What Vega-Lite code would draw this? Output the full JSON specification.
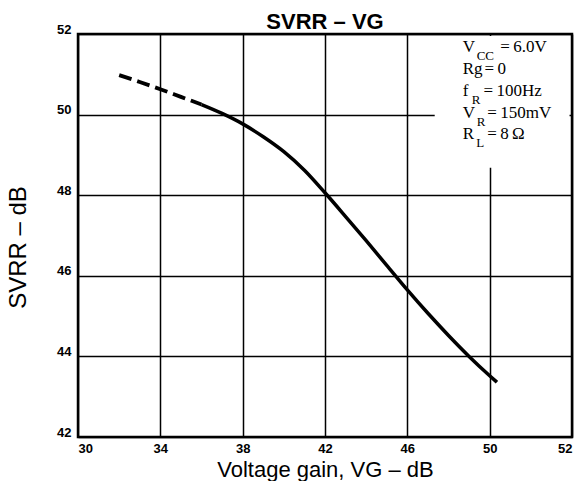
{
  "$schema": "https://vega.github.io/schema/vega-lite/v6.json",
  "autosize": "none",
  "width": 494,
  "height": 403,
  "padding": {"left": 78, "top": 34, "right": 8, "bottom": 44},
  "background": "white",
  "title": {
    "text": "SVRR – VG",
    "font": "Liberation Sans",
    "fontSize": 22,
    "fontWeight": "bold",
    "color": "black",
    "anchor": "middle",
    "frame": "group",
    "baseline": "alphabetic",
    "offset": 7,
    "dy": 35
  },
  "config": {
    "view": {"stroke": "black", "strokeWidth": 2.5},
    "axis": {"zindex": 0}
  },
  "encoding": {
    "x": {
      "field": "x",
      "type": "quantitative",
      "scale": {"domain": [30, 54], "nice": false, "zero": false},
      "axis": {
        "title": "Voltage gain, VG – dB",
        "values": [30, 34, 38, 42, 46, 50, 54],
        "labelExpr": "datum.value == 54 ? '52' : datum.label",
        "grid": true,
        "gridColor": "black",
        "gridWidth": 1.5,
        "gridOpacity": 1,
        "domain": false,
        "ticks": false,
        "labelFont": "Liberation Sans",
        "labelFontWeight": "bold",
        "labelFontSize": 13,
        "labelColor": "black",
        "labelPadding": 5,
        "labelFlush": true,
        "titleFont": "Liberation Sans",
        "titleFontSize": 22,
        "titleFontWeight": "normal",
        "titleColor": "black",
        "titleBaseline": "alphabetic",
        "titleY": 39,
        "zindex": 0
      }
    },
    "y": {
      "field": "y",
      "type": "quantitative",
      "scale": {"domain": [42, 52], "nice": false, "zero": false},
      "axis": {
        "title": "SVRR – dB",
        "values": [42, 44, 46, 48, 50, 52],
        "grid": true,
        "gridColor": "black",
        "gridWidth": 1.5,
        "gridOpacity": 1,
        "domain": false,
        "ticks": false,
        "labelFont": "Liberation Sans",
        "labelFontWeight": "bold",
        "labelFontSize": 13,
        "labelColor": "black",
        "labelPadding": 7,
        "labelBaseline": "alphabetic",
        "labelOffset": -1,
        "titleFont": "Liberation Sans",
        "titleFontSize": 24,
        "titleFontWeight": "normal",
        "titleColor": "black",
        "titleBaseline": "alphabetic",
        "titleAngle": -90,
        "titleX": -53,
        "titleY": 213,
        "zindex": 0
      }
    }
  },
  "layer": [
    {
      "data": {"values": [{"x": 47.33, "y": 48.68, "x2": 53.88, "y2": 51.95}]},
      "mark": {"type": "rect", "fill": "white", "stroke": null},
      "encoding": {
        "x2": {"field": "x2"},
        "y2": {"field": "y2"}
      }
    },
    {
      "data": {"values": [
        {"x": 32.0, "y": 50.98},
        {"x": 33.0, "y": 50.81},
        {"x": 34.0, "y": 50.63},
        {"x": 35.0, "y": 50.44},
        {"x": 36.0, "y": 50.25}
      ]},
      "mark": {"type": "line", "color": "black", "strokeWidth": 3.8, "strokeDash": [13, 6], "strokeCap": "butt", "interpolate": "monotone"},
      "encoding": {}
    },
    {
      "data": {"values": [
        {"x": 36.0, "y": 50.25},
        {"x": 37.0, "y": 50.03},
        {"x": 38.0, "y": 49.77},
        {"x": 39.0, "y": 49.45},
        {"x": 40.0, "y": 49.08},
        {"x": 41.0, "y": 48.62},
        {"x": 42.0, "y": 48.06},
        {"x": 43.0, "y": 47.47},
        {"x": 44.0, "y": 46.87},
        {"x": 45.0, "y": 46.26},
        {"x": 46.0, "y": 45.65},
        {"x": 47.0, "y": 45.07},
        {"x": 48.0, "y": 44.52},
        {"x": 49.0, "y": 44.0},
        {"x": 50.0, "y": 43.52},
        {"x": 50.35, "y": 43.36}
      ]},
      "mark": {"type": "line", "color": "black", "strokeWidth": 3.5, "interpolate": "monotone"},
      "encoding": {}
    },
    {
      "data": {"values": [
        {"t": "V", "x": 48.69, "y": 51.55, "kind": "main"},
        {"t": "CC", "x": 49.37, "y": 51.35, "kind": "sub"},
        {"t": "=\u20096.0V", "x": 50.52, "y": 51.55, "kind": "main"},
        {"t": "Rg", "x": 48.69, "y": 51.01, "kind": "main"},
        {"t": "=\u20090", "x": 49.75, "y": 51.01, "kind": "main"},
        {"t": "f", "x": 48.69, "y": 50.46, "kind": "main"},
        {"t": "R", "x": 49.13, "y": 50.26, "kind": "sub"},
        {"t": "=\u2009100Hz", "x": 49.7, "y": 50.46, "kind": "main"},
        {"t": "V", "x": 48.69, "y": 49.92, "kind": "main"},
        {"t": "R", "x": 49.37, "y": 49.72, "kind": "sub"},
        {"t": "=\u2009150mV", "x": 49.88, "y": 49.92, "kind": "main"},
        {"t": "R", "x": 48.69, "y": 49.39, "kind": "main"},
        {"t": "L", "x": 49.35, "y": 49.2, "kind": "sub"},
        {"t": "=\u20098\u2009Ω", "x": 49.88, "y": 49.39, "kind": "main"}
      ]},
      "layer": [
        {
          "transform": [{"filter": "datum.kind == 'main'"}],
          "mark": {"type": "text", "font": "Liberation Serif", "fontSize": 17, "align": "left", "baseline": "alphabetic", "color": "black"},
          "encoding": {"text": {"field": "t"}}
        },
        {
          "transform": [{"filter": "datum.kind == 'sub'"}],
          "mark": {"type": "text", "font": "Liberation Serif", "fontSize": 13, "align": "left", "baseline": "alphabetic", "color": "black"},
          "encoding": {"text": {"field": "t"}}
        }
      ]
    }
  ]
}
